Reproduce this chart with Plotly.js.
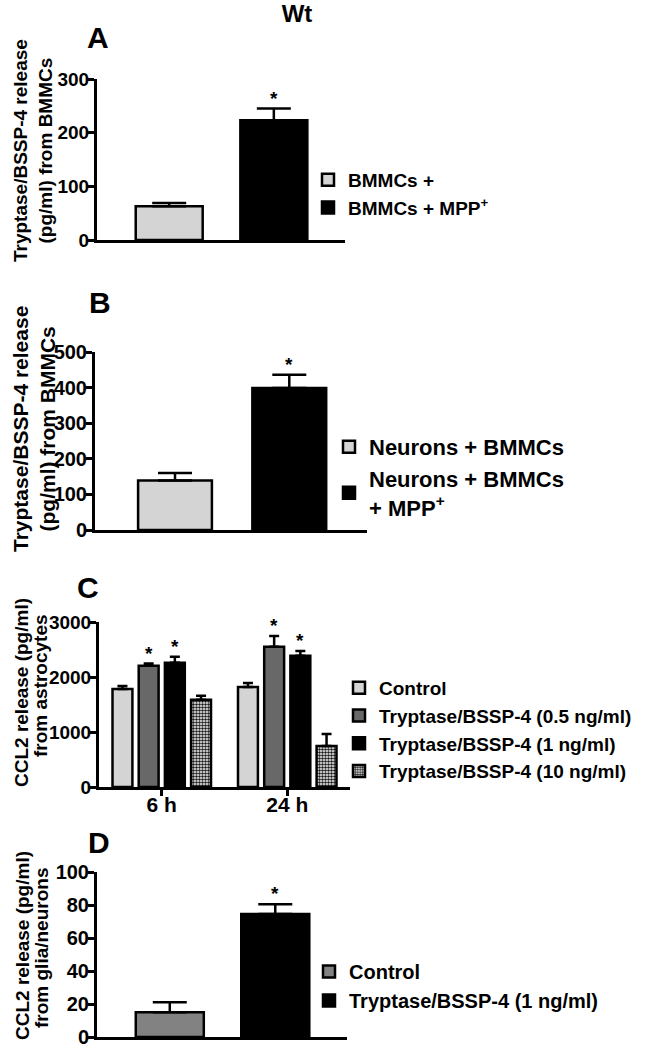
<!DOCTYPE html>
<html>
<head>
<meta charset="utf-8">
<script src="https://cdn.plot.ly/plotly-3.0.1.min.js"></script>
<style>html,body{margin:0;padding:0;background:#fff;}#chart{width:652px;height:1050px;}</style>
</head>
<body>
<div id="chart"></div>
<script>
// ---------- DATA ----------
const panelA_labels = ['BMMCs +', 'BMMCs + MPP<sup>+</sup>'];
const panelA_values = [63, 223];
const panelA_errors = [6, 22];
const panelA_sig = [false, true];
const panelA_ytitle = ['Tryptase/BSSP-4 release', '(pg/ml) from BMMCs'];

const panelB_labels = ['Neurons + BMMCs', 'Neurons + BMMCs<br>+ MPP<sup>+</sup>'];
const panelB_values = [139, 399];
const panelB_errors = [21, 37];
const panelB_sig = [false, true];
const panelB_ytitle = ['Tryptase/BSSP-4 release', '(pg/ml) from BMMCs'];

const panelC_times = ['6 h', '24 h'];
const panelC_labels = ['Control', 'Tryptase/BSSP-4 (0.5 ng/ml)', 'Tryptase/BSSP-4 (1 ng/ml)', 'Tryptase/BSSP-4 (10 ng/ml)'];
const panelC_control = [1780, 1820];
const panelC_control_err = [55, 72];
const panelC_low = [2205, 2550];
const panelC_low_err = [40, 195];
const panelC_mid = [2258, 2385];
const panelC_mid_err = [108, 90];
const panelC_high = [1585, 745];
const panelC_high_err = [72, 220];
const panelC_sig = [[false, false], [true, true], [true, true], [false, false]];
const panelC_ytitle = ['CCL2 release (pg/ml)', 'from astrocytes'];

const panelD_labels = ['Control', 'Tryptase/BSSP-4 (1 ng/ml)'];
const panelD_values = [15, 74.5];
const panelD_errors = [6, 6];
const panelD_sig = [false, true];
const panelD_ytitle = ['CCL2 release (pg/ml)', 'from glia/neurons'];

// ---------- STYLE ----------
const W = 652, H = 1050;
const FONT = 'Arial, "Liberation Sans", Helvetica, sans-serif';
const LIGHT = '#d4d4d4', DARK = '#686868', MID = '#828282', BLACK = '#000000';
function xd(l, r) { return [l / W, r / W]; }
function yd(top, bottom) { return [1 - bottom / H, 1 - top / H]; }
function px(y) { return 1 - y / H; }

const BARGAP = 0.165, BARGROUPGAP = 0.24;

function errBar(v, w, t) {
  return {type: 'data', array: v, arrayminus: v.map(() => 0), symmetric: false,
          color: BLACK, thickness: t || 2.5, width: w};
}

const traces = [];
const annotations = [];
const starFont = {family: FONT, size: 19, weight: 'bold', color: BLACK};
function star(xref, yref, x, y) {
  annotations.push({xref: xref, yref: yref, x: x, y: y, text: '*', showarrow: false,
    yanchor: 'bottom', yshift: -2, font: starFont});
}

// Panel A
const colorsA = [LIGHT, BLACK];
panelA_values.forEach((v, i) => {
  traces.push({type: 'bar', x: [i], y: [v], name: panelA_labels[i], xaxis: 'x', yaxis: 'y',
    legend: 'legend', offsetgroup: 'A', width: 0.64,
    marker: {color: colorsA[i], line: {color: BLACK, width: 2.5}},
    error_y: errBar([panelA_errors[i]], 17)});
  if (panelA_sig[i]) star('x', 'y', i, v + panelA_errors[i]);
});

// Panel B
const colorsB = [LIGHT, BLACK];
panelB_values.forEach((v, i) => {
  traces.push({type: 'bar', x: [i], y: [v], name: panelB_labels[i], xaxis: 'x2', yaxis: 'y2',
    legend: 'legend2', offsetgroup: 'B', width: 0.646,
    marker: {color: colorsB[i], line: {color: BLACK, width: 2.5}},
    error_y: errBar([panelB_errors[i]], 17)});
  if (panelB_sig[i]) star('x2', 'y2', i, v + panelB_errors[i]);
});

// Panel C
const cVals = [panelC_control, panelC_low, panelC_mid, panelC_high];
const cErrs = [panelC_control_err, panelC_low_err, panelC_mid_err, panelC_high_err];
const cColors = [LIGHT, DARK, BLACK, '#ffffff'];
const slot = (1 - BARGAP) / cVals.length;
cVals.forEach((vals, i) => {
  const m = {color: cColors[i], line: {color: BLACK, width: 2.5}};
  if (i === 3) m.pattern = {shape: '.', size: 3, solidity: 0.55, fgcolor: '#1a1a1a', bgcolor: '#ffffff'};
  traces.push({type: 'bar', x: panelC_times, y: vals, name: panelC_labels[i], xaxis: 'x3', yaxis: 'y3',
    legend: 'legend3', marker: m, error_y: errBar(cErrs[i], 5)});
  vals.forEach((v, j) => {
    if (panelC_sig[i][j]) star('x3', 'y3', j - (1 - BARGAP) / 2 + slot * (i + 0.5), v + cErrs[i][j]);
  });
});

// Panel D
const colorsD = [MID, BLACK];
panelD_values.forEach((v, i) => {
  traces.push({type: 'bar', x: [i], y: [v], name: panelD_labels[i], xaxis: 'x4', yaxis: 'y4',
    legend: 'legend4', offsetgroup: 'D', width: 0.645,
    marker: {color: colorsD[i], line: {color: BLACK, width: 2.5}},
    error_y: errBar([panelD_errors[i]], 17)});
  if (panelD_sig[i]) star('x4', 'y4', i, v + panelD_errors[i]);
});

// Panel letters
const letterFont = {family: FONT, size: 30, weight: 'bold', color: BLACK};
[['A', 98, 37], ['B', 100, 302], ['C', 88, 587], ['D', 99, 842]].forEach(l => {
  annotations.push({xref: 'paper', yref: 'paper', x: l[1] / W, y: px(l[2]), text: l[0],
    showarrow: false, xanchor: 'center', yanchor: 'middle', font: letterFont});
});

// Y-axis titles (rotated)
function yTitleBlock(lines, x, y, size) {
  annotations.push({xref: 'paper', yref: 'paper', x: x / W, y: px(y), text: lines.join('<br>'),
    textangle: -90, showarrow: false, xanchor: 'center', yanchor: 'middle',
    font: {family: FONT, size: size, weight: 'bold', color: BLACK}});
}
function yTitleLines(lines, xs, ys, size) {
  lines.forEach((t, k) => {
    annotations.push({xref: 'paper', yref: 'paper', x: xs[k] / W, y: px(ys[k]), text: t,
      textangle: -90, showarrow: false, xanchor: 'center', yanchor: 'middle',
      font: {family: FONT, size: size, weight: 'bold', color: BLACK}});
  });
}
yTitleBlock(panelA_ytitle, 33, 151, 19);
yTitleBlock(panelB_ytitle, 34, 429, 21);
yTitleLines(panelC_ytitle, [21, 40], [693, 686], 19);
yTitleLines(panelD_ytitle, [22, 42], [946, 948], 19);

function yaxis(domain, range, dtick, tickSize, xanchor) {
  return {domain: domain, range: range, dtick: dtick, anchor: xanchor, showline: true, linewidth: 3,
    linecolor: BLACK, ticks: 'outside', ticklen: 6, tickwidth: 3, tickcolor: BLACK, showgrid: false,
    zeroline: false, fixedrange: true, ticklabelstandoff: -5,
    tickfont: {family: FONT, size: tickSize, weight: 'bold', color: BLACK}};
}
function xaxisPlain(domain, range, yanchor) {
  return {domain: domain, range: range, anchor: yanchor, showline: true, linewidth: 3, linecolor: BLACK,
    ticks: '', showticklabels: false, showgrid: false, zeroline: false, fixedrange: true};
}
const legFont = (s) => ({family: FONT, size: s, weight: 'bold', color: BLACK});

const layout = {
  width: W, height: H, margin: {l: 0, r: 0, t: 0, b: 0},
  paper_bgcolor: '#ffffff', plot_bgcolor: 'rgba(0,0,0,0)',
  barmode: 'group', bargap: BARGAP, bargroupgap: BARGROUPGAP,
  showlegend: true,
  title: {text: 'Wt', x: 297 / W, xanchor: 'center', y: px(14), yanchor: 'middle',
          font: {family: FONT, size: 24, weight: 'bold', color: BLACK}},
  xaxis: xaxisPlain(xd(97, 345), [-0.69, 1.68], 'y'),
  yaxis: yaxis(yd(79, 240), [0, 300], 100, 19, 'x'),
  xaxis2: xaxisPlain(xd(95, 367), [-0.70, 1.68], 'y2'),
  yaxis2: yaxis(yd(352, 530), [0, 500], 100, 20, 'x2'),
  xaxis3: {domain: xd(99, 350), range: [-0.5, 1.5], anchor: 'y3', type: 'category', showline: true,
    linewidth: 3, linecolor: BLACK, ticks: 'outside', ticklen: 6, tickwidth: 3, tickcolor: BLACK,
    showgrid: false, zeroline: false, fixedrange: true, ticklabelstandoff: -9,
    tickfont: {family: FONT, size: 21, weight: 'bold', color: BLACK}},
  yaxis3: yaxis(yd(622, 787), [0, 3000], 1000, 19, 'x3'),
  xaxis4: xaxisPlain(xd(97, 347), [-0.69, 1.68], 'y4'),
  yaxis4: yaxis(yd(872, 1037), [0, 100], 20, 20, 'x4'),
  legend: {x: 308 / W, y: px(161), xanchor: 'left', yanchor: 'top', font: legFont(19), bgcolor: 'rgba(0,0,0,0)', traceorder: 'normal'},
  legend2: {x: 329 / W, y: px(426), xanchor: 'left', yanchor: 'top', font: legFont(22), bgcolor: 'rgba(0,0,0,0)', traceorder: 'normal'},
  legend3: {x: 339 / W, y: px(669), xanchor: 'left', yanchor: 'top', font: legFont(19), bgcolor: 'rgba(0,0,0,0)', traceorder: 'normal'},
  legend4: {x: 309 / W, y: px(952), xanchor: 'left', yanchor: 'top', font: legFont(20), bgcolor: 'rgba(0,0,0,0)', traceorder: 'normal'},
  annotations: annotations
};

Plotly.newPlot('chart', traces, layout, {staticPlot: true, displayModeBar: false});
</script>
</body>
</html>
